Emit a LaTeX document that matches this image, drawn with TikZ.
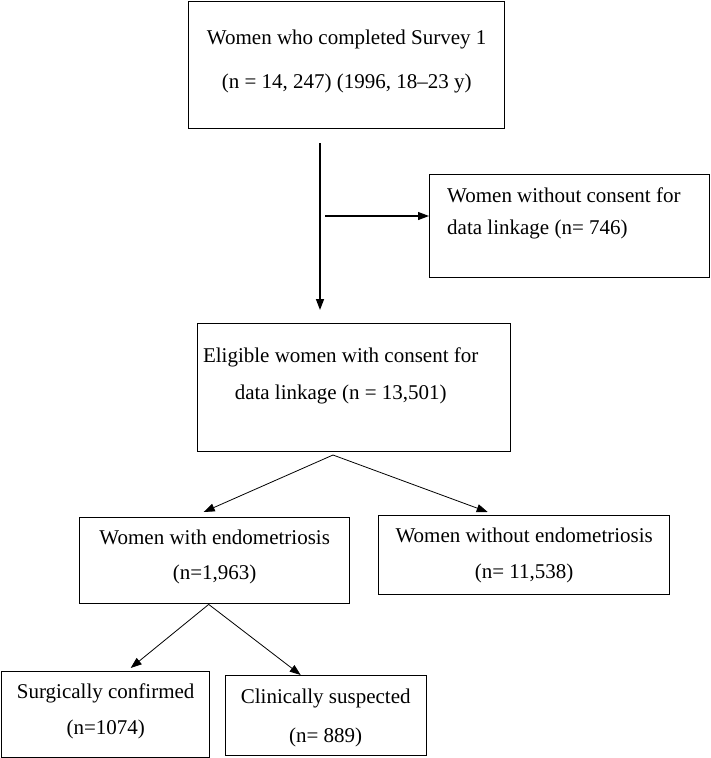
\documentclass[tikz,border=0pt]{standalone}
\usepackage{fontspec}
\setmainfont{Liberation Serif}
\usetikzlibrary{arrows.meta,positioning}

\begin{document}
\begin{tikzpicture}[x=1pt,y=-1pt,
  box/.style={draw, line width=1.4pt, inner sep=0pt, anchor=north west},
  txt/.style={align=center, inner sep=0pt, font=\fontsize{21}{#1}\selectfont},
  txt/.default=36,
  arr/.style={line width=0.9pt, -{Triangle[length=11pt,width=8pt]}}]
\useasboundingbox (0,0) rectangle (710,758);

% boxes
\node[box, minimum width=316pt, minimum height=127pt] (survey) at (188,1) {};
\node[box, minimum width=280pt, minimum height=103pt] (noconsent) at (429,174) {};
\node[box, minimum width=313pt, minimum height=128pt] (eligible) at (197,323) {};
\node[box, minimum width=270pt, minimum height=86pt] (endo) at (79,517) {};
\node[box, minimum width=291pt, minimum height=79pt] (noendo) at (378,515) {};
\node[box, minimum width=208pt, minimum height=86pt] (surgical) at (1,671) {};
\node[box, minimum width=201pt, minimum height=80pt] (clinical) at (225,675) {};

% texts
\node[txt=44] (survey-txt) at ([shift={(0,-3.5)}]survey.center)
  {Women who completed Survey 1\\(n = 14, 247) (1996, 18--23 y)};
\node[txt=32, align=left, anchor=west] (noconsent-txt) at ([shift={(18,-12.5)}]noconsent.west)
  {Women without consent for\\data linkage (n= 746)};
\node[txt=37] (eligible-txt) at ([shift={(-13.5,-12)}]eligible.center)
  {Eligible women with consent for\\data linkage (n = 13,501)};
\node[txt=35] (endo-txt) at ([shift={(0,-3.5)}]endo.center)
  {Women with endometriosis\\(n=1,963)};
\node[txt] (noendo-txt) at (noendo.center)
  {Women without endometriosis\\(n= 11,538)};
\node[txt] (surgical-txt) at ([shift={(0,-3)}]surgical.center)
  {Surgically confirmed\\(n=1074)};
\node[txt=39] (clinical-txt) at ([shift={(-0.5,2)}]clinical.center)
  {Clinically suspected\\(n= 889)};

% connectors
\coordinate (trunk) at (320,143);
\coordinate (trunk-end) at (320,310);
\coordinate (side) at (325,216);
\coordinate (fork) at (333,455);
\draw[arr, line width=1.5pt] (trunk) -- (trunk-end);
\draw[arr, line width=1.2pt] (side) -- (side -| noconsent.west);
\draw[arr, line width=0.8pt] (fork) -- ([shift={(-11,-5)}]endo.north);
\draw[arr, line width=0.8pt] (fork) -- ([shift={(-36.5,-3)}]noendo.north);
\draw[arr, line width=0.8pt] ([xshift=-6pt]endo.south) -- ([shift={(25,-3)}]surgical.north);
\draw[arr, line width=0.8pt] ([xshift=-6pt]endo.south) -- ([shift={(-25.5,0)}]clinical.north);
\end{tikzpicture}
\end{document}
